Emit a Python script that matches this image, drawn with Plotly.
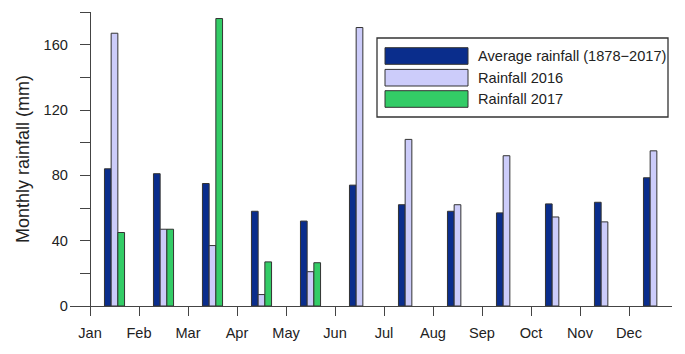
import plotly.graph_objects as go

# Monthly rainfall (mm)
months = ["Jan", "Feb", "Mar", "Apr", "May", "Jun", "Jul", "Aug", "Sep", "Oct", "Nov", "Dec"]
avg_rain = [84, 81, 75, 58, 52, 74, 62, 58, 57, 62.5, 63.5, 78.5]
rain_2016 = [167, 47, 37, 7, 21, 170.5, 102, 62, 92, 54.5, 51.5, 95]
rain_2017 = [45, 47, 176, 27, 26.5, None, None, None, None, None, None, None]

series_names = ["Average rainfall (1878\u22122017)", "Rainfall 2016", "Rainfall 2017"]
series_colors = ["#0a2d8c", "#ccccfa", "#33cc66"]

y_ticks = [0, 20, 40, 60, 80, 100, 120, 140, 160, 180]
y_labels = ["0", "", "40", "", "80", "", "120", "", "160", ""]

# bars sit in the middle of each month
x_pos = [i + 0.5 for i in range(len(months))]

fig = go.Figure()
for name, vals, col in zip(series_names, [avg_rain, rain_2016, rain_2017], series_colors):
    fig.add_trace(go.Bar(
        x=x_pos, y=vals, name=name,
        marker=dict(color=col, line=dict(color="#333333", width=1)),
        showlegend=False,
    ))

# page has an 8px body margin; plot area on the page: x 70..672, y 12..306
OFF = 8
L, R, T, B = 70 - OFF, 672 - OFF, 12 - OFF, 306 - OFF
W, H = R - L, B - T
FW, FH = 685, 354


def px(x):
    return (x - OFF - L) / W


def py(y):
    return (B - (y - OFF)) / H


axis_col = "#444444"
fs = 14.6
fig.update_layout(
    width=FW, height=FH,
    margin=dict(l=L, r=FW - R, t=T, b=FH - B),
    plot_bgcolor="white", paper_bgcolor="white",
    font=dict(family="Liberation Sans, Arial, sans-serif", size=fs, color="#222222"),
    barmode="group", bargap=0.59, bargroupgap=0,
    xaxis=dict(
        range=[-20 / 49, -20 / 49 + W / 49],
        tickvals=list(range(len(months))), ticktext=months,
        showline=True, linecolor=axis_col, linewidth=1.3,
        ticks="outside", ticklen=9, tickcolor=axis_col, tickwidth=1.3,
        ticklabelstandoff=4,
        showgrid=False, zeroline=False,
    ),
    yaxis=dict(
        range=[0, 180],
        tickvals=y_ticks, ticktext=y_labels,
        anchor="free", position=px(90),
        showline=True, linecolor=axis_col, linewidth=1.3,
        ticks="outside", ticklen=10, tickcolor=axis_col, tickwidth=1.3,
        ticklabelstandoff=9,
        showgrid=False, zeroline=False,
        title=dict(text="Monthly rainfall (mm)", standoff=8),
    ),
)

# legend box drawn by hand (wide swatches like the original)
fig.add_shape(type="rect", xref="paper", yref="paper",
              x0=px(377), x1=px(668), y0=py(117), y1=py(38),
              line=dict(color="#333333", width=1.3), fillcolor="white")
row_y = [56, 77.7, 99]
for name, col, ry in zip(series_names, series_colors, row_y):
    fig.add_shape(type="rect", xref="paper", yref="paper",
                  x0=px(385), x1=px(468), y0=py(ry + 8.3), y1=py(ry - 8.3),
                  line=dict(color="#333333", width=1), fillcolor=col)
    fig.add_annotation(xref="paper", yref="paper", x=px(476), y=py(ry),
                       text=name, showarrow=False, xanchor="left", yanchor="middle",
                       font=dict(size=fs, color="#222222"))

fig.write_html("out.html")
